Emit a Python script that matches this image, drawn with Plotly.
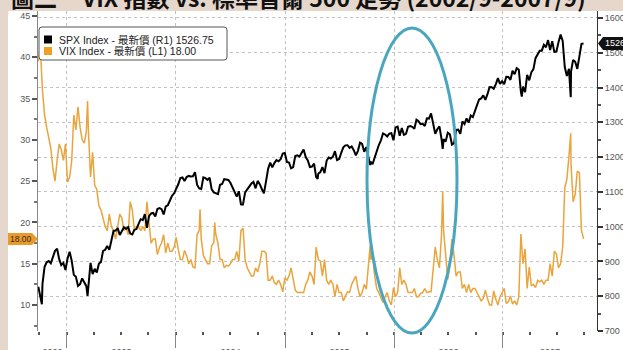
import pandas as pd
import plotly.graph_objects as go

# ---- weekly (Friday) closes, S&P 500 ----
spx_2002 = [827.37, 800.58, 835.32, 884.39, 897.65, 900.96, 894.74, 909.83, 930.55, 936.31,
            906.55, 889.48, 895.76, 875.40]
spx_2003 = [908.59, 927.57, 901.78, 861.40, 855.70, 829.69, 834.89, 851.17, 841.15, 828.89,
            833.27, 895.79, 863.50, 878.85, 868.30, 893.58, 898.81, 930.08, 933.41, 944.30,
            933.22, 963.59, 987.76, 988.61, 995.69, 976.22, 985.70, 998.14, 993.32, 998.68,
            980.15, 977.59, 990.67, 993.06, 1008.01, 1021.39, 1018.63, 1036.30, 996.85, 1029.85,
            1038.06, 1039.32, 1028.91, 1050.71, 1053.21, 1050.35, 1035.28, 1058.20, 1061.50, 1074.14,
            1088.66, 1095.89]
spx_2004 = [1108.48, 1121.86, 1139.83, 1141.55, 1131.13, 1142.76, 1145.81, 1144.11, 1144.94, 1156.86,
            1120.57, 1109.78, 1108.06, 1141.81, 1139.32, 1134.61, 1140.60, 1107.30, 1098.70, 1095.70,
            1093.56, 1120.68, 1122.50, 1136.47, 1135.02, 1134.43, 1125.38, 1112.81, 1101.39, 1086.20,
            1101.72, 1063.97, 1064.80, 1098.35, 1107.77, 1113.63, 1123.92, 1128.55, 1110.11, 1131.50,
            1122.14, 1108.20, 1095.74, 1130.20, 1166.17, 1184.17, 1170.34, 1182.65, 1191.17, 1188.00,
            1194.20, 1210.13, 1211.92]
spx_2005 = [1186.19, 1184.52, 1167.87, 1171.36, 1203.03, 1205.30, 1201.59, 1211.37, 1222.12, 1200.08,
            1190.21, 1171.42, 1172.92, 1181.20, 1142.62, 1152.12, 1156.85, 1171.35, 1154.05, 1189.28,
            1198.78, 1196.02, 1200.93, 1216.96, 1191.57, 1194.44, 1211.86, 1227.92, 1233.68, 1234.18,
            1226.42, 1230.39, 1219.71, 1205.10, 1218.02, 1241.48, 1237.91, 1215.29, 1228.81, 1195.90,
            1186.57, 1179.59, 1198.41, 1220.14, 1234.72, 1248.27, 1268.25, 1265.08, 1259.37, 1267.32,
            1268.66, 1248.29]
spx_2006 = [1285.45, 1287.61, 1261.49, 1283.72, 1264.03, 1266.99, 1287.24, 1289.43, 1287.23, 1281.42,
            1307.25, 1302.95, 1294.83, 1295.50, 1289.12, 1311.28, 1310.61, 1325.76, 1291.24, 1267.03,
            1280.16, 1288.22, 1252.30, 1251.54, 1244.50, 1270.20, 1265.48, 1236.20, 1240.29, 1278.55,
            1279.36, 1266.74, 1302.30, 1295.09, 1311.01, 1298.92, 1319.66, 1314.78, 1335.85, 1349.59,
            1365.62, 1368.60, 1377.34, 1364.30, 1380.90, 1401.20, 1400.95, 1396.71, 1409.84, 1427.09,
            1410.76, 1418.30]
spx_2007 = [1409.71, 1430.73, 1430.50, 1422.18, 1448.39, 1438.06, 1455.54, 1451.19, 1387.17, 1402.84,
            1386.95, 1436.11, 1420.86, 1443.76, 1452.85, 1484.35, 1494.07, 1505.62, 1505.85, 1522.75,
            1515.73, 1536.34, 1507.67, 1532.91, 1502.56, 1503.35, 1530.44, 1552.50, 1534.10, 1458.95,
            1433.06, 1453.64, 1445.94, 1479.37, 1473.99, 1453.55, 1484.25, 1525.75, 1526.75]

# ---- weekly (Friday) closes, VIX ----
vix_2002 = [39.5, 41.0, 36.0, 33.0, 31.5, 30.0, 29.0, 26.5, 25.0, 27.5, 29.5, 28.8, 27.5, 29.5]
vix_2003 = [24.9, 25.5, 27.5, 33.0, 31.2, 34.0, 31.5, 30.0, 29.6, 31.0, 31.0, 25.5, 28.5, 24.5,
            24.0, 22.0, 21.5, 20.5, 19.5, 19.0, 21.0, 19.5, 19.0, 18.0, 19.5, 21.0, 20.5, 19.0,
            19.5, 18.5, 22.5, 21.5, 19.0, 19.5, 19.5, 19.0, 19.5, 19.0, 22.5, 19.5, 17.5, 18.0,
            18.0, 16.1, 17.0, 17.5, 18.5, 16.3, 17.5, 16.5, 16.5, 17.0]
vix_2004 = [18.2, 16.7, 15.5, 15.5, 16.6, 16.0, 15.0, 15.5, 14.6, 14.5, 18.5, 19.0, 18.0, 16.0,
            15.5, 15.0, 15.0, 17.2, 17.5, 18.5, 17.5, 15.5, 15.5, 14.5, 14.8, 14.7, 15.0, 15.5,
            15.5, 16.5, 15.3, 19.0, 19.3, 15.5, 14.5, 14.0, 13.5, 13.5, 14.5, 14.0, 15.0, 16.5,
            16.5, 16.3, 13.0, 13.0, 13.5, 12.7, 12.5, 13.0, 12.5, 11.6, 13.3]
vix_2005 = [13.0, 13.5, 14.5, 13.0, 11.8, 11.5, 11.5, 11.5, 11.5, 12.5, 13.0, 14.0, 13.5, 12.5,
            17.0, 15.5, 15.3, 13.5, 15.5, 13.0, 12.5, 13.0, 12.5, 11.0, 12.5, 11.5, 11.5, 10.5,
            11.0, 11.6, 11.5, 12.5, 13.0, 13.5, 12.0, 11.0, 11.5, 12.5, 11.9, 15.0, 15.5, 16.0,
            13.5, 12.0, 11.5, 11.0, 10.3, 11.0, 11.5, 10.5, 10.0, 12.1]
vix_2006 = [11.0, 11.5, 14.5, 12.5, 13.0, 12.5, 11.5, 11.5, 11.5, 12.0, 11.0, 11.0, 11.4, 11.5,
            12.0, 11.5, 11.6, 11.6, 14.0, 17.0, 15.5, 14.5, 18.5, 19.0, 16.5, 13.1, 15.0, 18.0,
            16.0, 13.5, 14.0, 14.0, 12.0, 12.5, 11.5, 12.5, 11.5, 12.0, 12.0, 11.5, 10.8, 10.5,
            10.8, 11.8, 10.8, 10.0, 10.0, 11.7, 10.7, 10.0, 11.0, 11.6]
vix_2007 = [12.0, 10.2, 10.4, 11.1, 10.1, 10.5, 10.0, 11.0, 18.6, 15.0, 16.8, 12.0, 14.6, 12.3,
            12.5, 12.1, 13.0, 12.8, 13.0, 12.5, 13.0, 13.0, 15.0, 13.5, 16.5, 16.2, 14.5, 15.0,
            17.0, 24.2, 25.2, 28.0, 27.0, 22.5, 23.4, 26.2, 26.0, 19.0, 18.0]

# intra-week extremes
spx_extremes = [("2002-10-09", 776.8), ("2003-03-11", 800.7), ("2004-08-12", 1063.2),
                ("2005-04-20", 1137.5), ("2005-10-13", 1176.8), ("2006-06-13", 1223.7),
                ("2007-03-05", 1374.1), ("2007-08-16", 1372.0)]
vix_extremes = [("2003-03-11", 34.7), ("2004-03-22", 21.6), ("2004-05-10", 20.0),
                ("2005-10-13", 17.2), ("2006-06-13", 23.8), ("2007-08-16", 30.8)]

year_ranges = [("2002-09-27", "2002-12-31"), ("2003-01-01", "2003-12-31"), ("2004-01-01", "2004-12-31"),
               ("2005-01-01", "2005-12-31"), ("2006-01-01", "2006-12-31"), ("2007-01-01", "2007-09-28")]
year_labels = ["2002", "2003", "2004", "2005", "2006", "2007"]

spx_years = [spx_2002, spx_2003, spx_2004, spx_2005, spx_2006, spx_2007]
vix_years = [vix_2002, vix_2003, vix_2004, vix_2005, vix_2006, vix_2007]


def build(per_year, extremes):
    parts = []
    for (a, b), vals in zip(year_ranges, per_year):
        idx = pd.date_range(a, b, freq="W-FRI")
        assert len(idx) == len(vals), (a, len(idx), len(vals))
        parts.append(pd.Series(vals, index=idx))
    ext = pd.Series([v for _, v in extremes], index=pd.to_datetime([d for d, _ in extremes]))
    return pd.concat(parts + [ext]).sort_index()


spx = build(spx_years, spx_extremes)
vix = build(vix_years, vix_extremes)

# ---- layout geometry (pixels) ----
W, H = 623, 350
L, R, T, B = 38, 597, 11, 331
X_RANGE = ["2002-09-26", "2007-11-12"]
VIX_RANGE = [6.85, 45.6]
SPX_RANGE = [700, 1620]

BEIGE = "#e5d7cb"
ORANGE = "#eaa43c"
TEAL = "#4aa6bf"
GRID = "#c2c2c2"
TICKC = "#555555"


def fx(p):
    return (p - L) / (R - L)


def fy(p):
    return (B - p) / (B - T)


def vix_px(v):
    return B - (v - VIX_RANGE[0]) / (VIX_RANGE[1] - VIX_RANGE[0]) * (B - T)


def spx_px(v):
    return B - (v - SPX_RANGE[0]) / (SPX_RANGE[1] - SPX_RANGE[0]) * (B - T)


# year labels sit in the middle of the visible part of each year
x0 = pd.Timestamp(X_RANGE[0])
x1 = pd.Timestamp(X_RANGE[1])
year_mids = []
for lab in year_labels:
    a = max(pd.Timestamp(f"{lab}-01-01"), x0)
    b = min(pd.Timestamp(f"{int(lab) + 1}-01-01"), x1)
    year_mids.append(a + (b - a) / 2)

fig = go.Figure()
fig.add_trace(go.Scatter(x=vix.index, y=vix.values, mode="lines", name="VIX",
                         line=dict(color=ORANGE, width=1.5), yaxis="y"))
fig.add_trace(go.Scatter(x=spx.index, y=spx.values, mode="lines", name="SPX",
                         line=dict(color="#000000", width=2), yaxis="y2"))
# carrier for the year-label axis
fig.add_trace(go.Scatter(x=[], y=[], xaxis="x2", yaxis="y", hoverinfo="skip", showlegend=False))

shapes = []
ann = []

# white chart card behind the plot
shapes.append(dict(type="rect", xref="paper", yref="paper", x0=fx(8), x1=fx(W + 20),
                   y0=fy(H + 20), y1=fy(T), fillcolor="white", line=dict(width=0), layer="below"))

# highlight ellipse
shapes.append(dict(type="circle", xref="paper", yref="paper", x0=fx(367), x1=fx(457),
                   y0=fy(333), y1=fy(28), line=dict(color=TEAL, width=3)))

# legend box (rounded corners)
bx0, bx1, by0, by1, rr = 39, 227, 27, 60, 3
shapes.append(dict(type="path", xref="paper", yref="paper",
                   path=(f"M {fx(bx0 + rr)},{fy(by0)} L {fx(bx1 - rr)},{fy(by0)} "
                         f"Q {fx(bx1)},{fy(by0)} {fx(bx1)},{fy(by0 + rr)} "
                         f"L {fx(bx1)},{fy(by1 - rr)} Q {fx(bx1)},{fy(by1)} {fx(bx1 - rr)},{fy(by1)} "
                         f"L {fx(bx0 + rr)},{fy(by1)} Q {fx(bx0)},{fy(by1)} {fx(bx0)},{fy(by1 - rr)} "
                         f"L {fx(bx0)},{fy(by0 + rr)} Q {fx(bx0)},{fy(by0)} {fx(bx0 + rr)},{fy(by0)} Z"),
                   fillcolor="white", line=dict(color="#555", width=1)))
legend_rows = [("#000000", f"SPX Index - 最新價 (R1) {spx.values[-1]:.2f}", 39.5),
               ("#f0a020", f"VIX Index - 最新價 (L1) {vix.values[-1]:.2f}", 51)]
for col, txt, yc in legend_rows:
    shapes.append(dict(type="rect", xref="paper", yref="paper", x0=fx(44), x1=fx(52),
                       y0=fy(yc + 4), y1=fy(yc - 4), fillcolor=col, line=dict(width=0)))
    ann.append(dict(xref="paper", yref="paper", x=fx(57), y=fy(yc), text=txt, showarrow=False,
                    xanchor="left", yanchor="middle",
                    font=dict(family="Liberation Sans, Noto Sans CJK TC", size=10.5, color="#222")))

# last-value flag on the VIX axis
vy = vix_px(vix.values[-1])
shapes.append(dict(type="path", xref="paper", yref="paper",
                   path=f"M {fx(8)},{fy(vy - 6)} L {fx(32)},{fy(vy - 6)} L {fx(38)},{fy(vy)} "
                        f"L {fx(32)},{fy(vy + 6)} L {fx(8)},{fy(vy + 6)} Z",
                   fillcolor="#e99a2c", line=dict(width=0)))
ann.append(dict(xref="paper", yref="paper", x=fx(21), y=fy(vy), text=f"{vix.values[-1]:.2f}",
                showarrow=False, xanchor="center", yanchor="middle",
                font=dict(family="Liberation Sans", size=8.5, color="#3a2a10")))

# last-value tag on the SPX axis
sy = spx_px(spx.values[-1])
shapes.append(dict(type="path", xref="paper", yref="paper",
                   path=f"M {fx(598)},{fy(sy)} L {fx(603)},{fy(sy - 6.5)} L {fx(640)},{fy(sy - 6.5)} "
                        f"L {fx(640)},{fy(sy + 6.5)} L {fx(603)},{fy(sy + 6.5)} Z",
                   fillcolor="#111111", line=dict(width=0)))
ann.append(dict(xref="paper", yref="paper", x=fx(603), y=fy(sy), text=f"{spx.values[-1]:.2f}",
                showarrow=False, xanchor="left", yanchor="middle",
                font=dict(family="Liberation Sans", size=9, color="white")))

# heading
title_font = dict(family="Noto Sans CJK TC", size=23, color="#111", weight="bold")
ann.append(dict(xref="paper", yref="paper", x=fx(9), y=fy(-2.5), text="圖二", showarrow=False,
                xanchor="left", yanchor="middle", font=title_font))
ann.append(dict(xref="paper", yref="paper", x=fx(79), y=fy(-2.5),
                text="VIX 指數 vs. 標準普爾 500 走勢 (2002/9-2007/9)", showarrow=False,
                xanchor="left", yanchor="middle", font=title_font))

year_starts = [f"{y}-01-01" for y in range(2003, 2008)]

fig.update_layout(
    width=W, height=H,
    margin=dict(l=L, r=W - R, t=T, b=H - B, pad=0),
    paper_bgcolor=BEIGE, plot_bgcolor="white",
    showlegend=False,
    shapes=shapes, annotations=ann,
    xaxis=dict(type="date", range=X_RANGE, tickvals=year_starts, showticklabels=False,
               ticks="outside", ticklen=16, tickcolor="#888", tickwidth=1,
               showgrid=True, gridcolor=GRID, griddash="dot", gridwidth=1,
               showline=False, zeroline=False, automargin=False,
               minor=dict(tick0="2003-01-01", dtick="M3", ticks="outside", ticklen=3,
                          tickcolor="#555", tickwidth=1.5, showgrid=False)),
    xaxis2=dict(type="date", range=X_RANGE, overlaying="x", side="bottom", anchor="y",
                tickvals=year_mids, ticktext=year_labels, ticks="", showgrid=False,
                showline=False, zeroline=False, ticklabelstandoff=14, automargin=False,
                tickfont=dict(family="Liberation Sans", size=9, color=TICKC)),
    yaxis=dict(range=VIX_RANGE, tickvals=list(range(10, 50, 5)), ticks="outside", ticklen=5,
               tickwidth=2, tickcolor="#555", showline=True, linecolor="#888", linewidth=1,
               showgrid=False, zeroline=False, automargin=False,
               tickfont=dict(family="Liberation Sans", size=9, color=TICKC),
               minor=dict(tick0=7.5, dtick=5, ticks="outside", ticklen=3, tickcolor="#777")),
    yaxis2=dict(range=SPX_RANGE, overlaying="y", side="right", tickvals=list(range(700, 1700, 100)),
                ticks="outside", ticklen=5, tickwidth=2, tickcolor="#333",
                showline=True, linecolor="#333", linewidth=1, automargin=False,
                showgrid=True, gridcolor=GRID, griddash="dot", gridwidth=1, zeroline=False,
                tickfont=dict(family="Liberation Sans", size=9, color=TICKC),
                minor=dict(tick0=750, dtick=100, ticks="outside", ticklen=3, tickcolor="#555")),
)

fig.write_html("out.html")
